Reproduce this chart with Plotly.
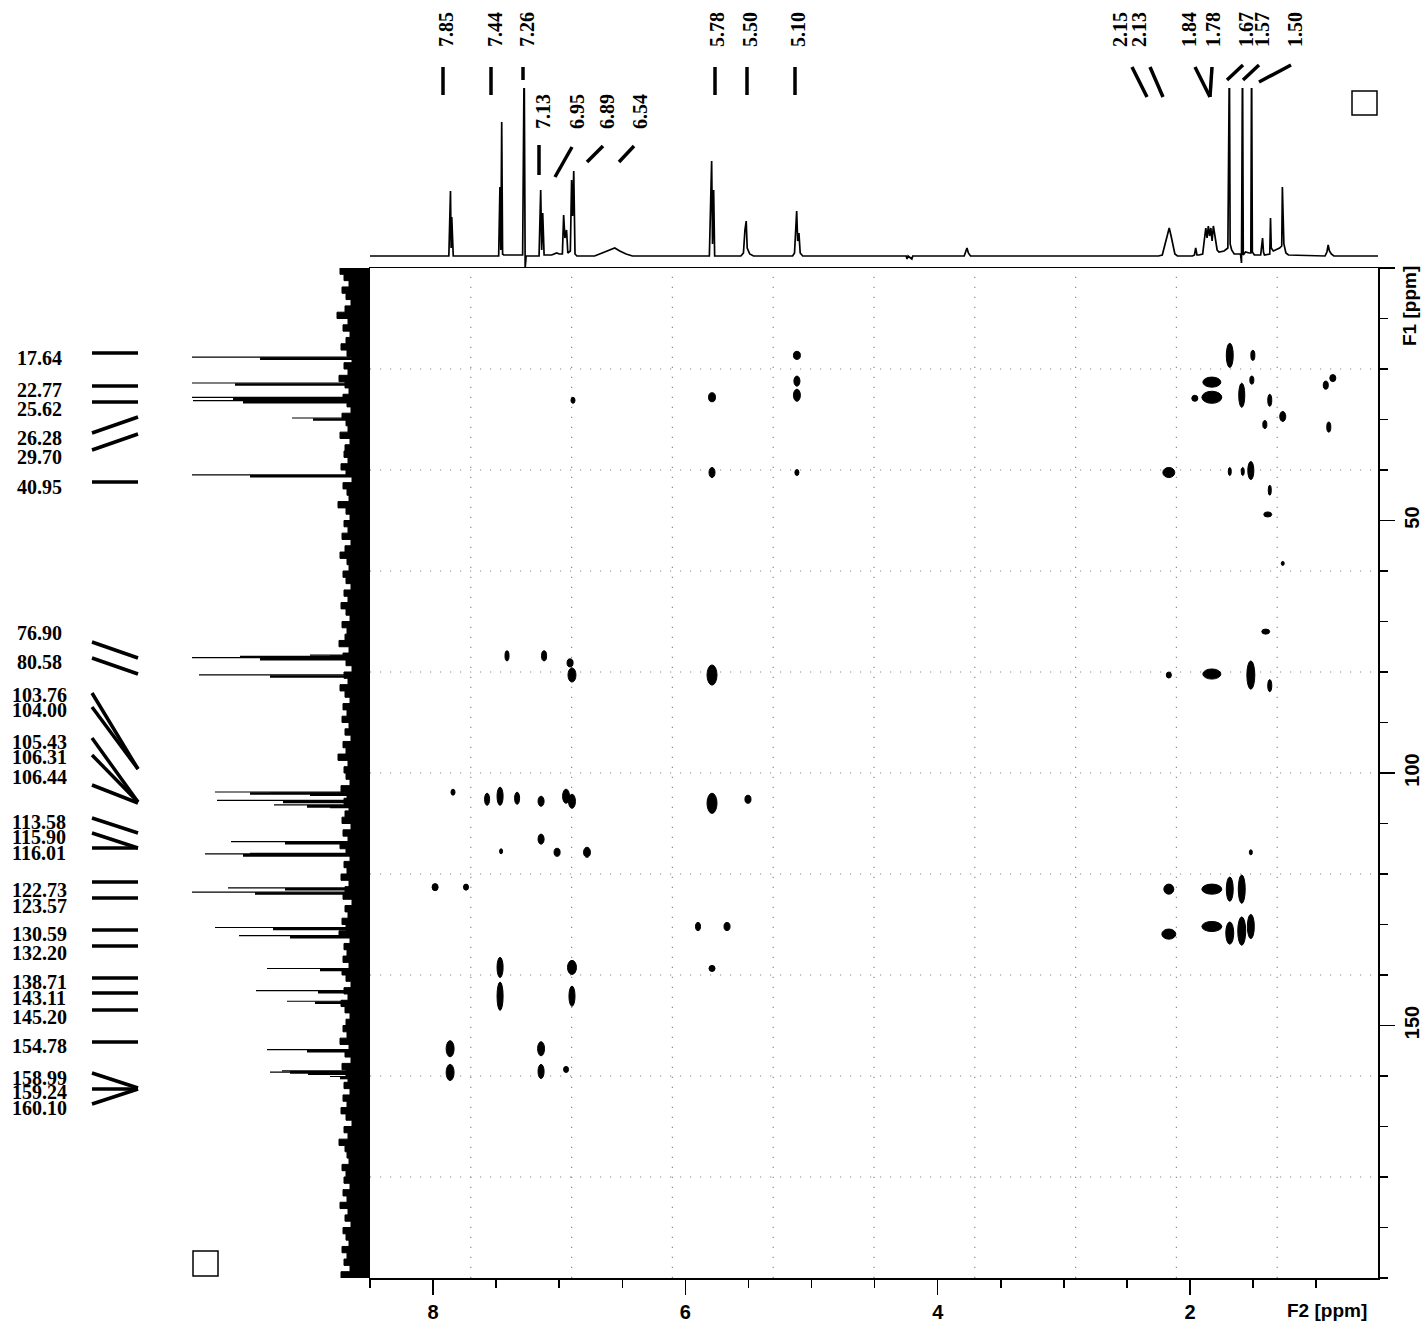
import plotly.graph_objects as go

# the page body margin is removed by a post_script, so window pixels = figure pixels
OX, OY = 0, 0
FW, FH = 1428, 1327


def px(x):
    return (x - OX) / FW


def py(y):
    return 1 - (y - OY) / FH


# ---------------- data ----------------
# 1H projection (top): chemical shift (ppm) and intensity
top_ppm = [8.50, 7.875, 7.862, 7.857, 7.852, 7.846, 7.84,
           7.48, 7.470, 7.463, 7.456, 7.449, 7.44,
           7.29, 7.278, 7.270, 7.262,
           7.16, 7.147, 7.139, 7.131, 7.12, 7.06, 7.02, 7.00,
           6.975, 6.965, 6.955, 6.942, 6.932, 6.912, 6.902, 6.894, 6.885, 6.875, 6.86,
           6.72, 6.66, 6.60, 6.56, 6.52, 6.47, 6.42,
           5.81, 5.792, 5.785, 5.776, 5.768,
           5.56, 5.54, 5.528, 5.518, 5.51, 5.49, 5.46,
           5.15, 5.135, 5.125, 5.118, 5.110, 5.100, 5.09, 5.07,
           4.25, 4.243, 4.235, 4.205, 4.198, 4.19,
           3.79, 3.768, 3.757, 3.74,
           2.25, 2.22, 2.20, 2.18, 2.165, 2.15, 2.135, 2.12, 2.10,
           1.98, 1.965, 1.955, 1.945, 1.93,
           1.90, 1.885, 1.875, 1.865, 1.855, 1.845, 1.835, 1.825, 1.815, 1.805, 1.795, 1.785, 1.77,
           1.73, 1.70, 1.688, 1.682, 1.67, 1.65,
           1.60, 1.592, 1.584, 1.578, 1.56, 1.53,
           1.518, 1.512, 1.506, 1.49,
           1.44, 1.425, 1.418, 1.41,
           1.368, 1.362, 1.356, 1.34,
           1.29, 1.273, 1.268, 1.262, 1.256, 1.24, 1.22,
           0.93, 0.915, 0.905, 0.895, 0.88, 0.86, 0.51]
top_int = [0, 0, 65, 8, 39, 0, 0,
           0, 69, 6, 134, 2, 1,
           1, 200, -12, 0,
           0, 66, 6, 43, 1, 1, 3, 2,
           2, 41, 18, 26, 3, 5, 76, 40, 85, 2, 0,
           0, 3, 6, 8, 5, 2, 0,
           0, 95, 12, 66, 0,
           0, 3, 26, 35, 8, 2, 0,
           0, 3, 34, 45, 15, 23, 3, 0,
           0, -3, 0, -3, 0, 0,
           0, 8, 3, 0,
           0, 1, 12, 22, 28, 20, 10, 2, 0,
           0, 1, 8, 1, 1,
           2, 22, 28, 18, 30, 20, 28, 15, 30, 22, 12, 6, 4,
           5, 8, 200, 12, 6, 2,
           2, -7, 200, 1, 4, 3,
           3, 200, 4, 1,
           1, 18, 4, 1,
           2, 38, 8, 5,
           8, 10, 69, 40, 12, 3, 1,
           0, 4, 11, 5, 2, 0, 0]

# 13C projection (left): peak positions (ppm), tip intensity, inner (thick) intensity
c13_ppm = [17.64, 22.77, 25.62, 26.28, 29.70, 40.95, 76.65, 76.90, 77.16, 80.58,
           103.76, 104.00, 105.43, 106.31, 106.44, 113.58, 115.90, 116.01,
           122.73, 123.57, 130.59, 132.20, 138.71, 143.11, 145.20, 154.78,
           158.99, 159.24, 160.10]
c13_tip = [178, 178, 178, 177, 78, 178, 60, 130, 178, 171,
           155, 100, 153, 96, 60, 139, 120, 165,
           142, 178, 155, 131, 103, 114, 83, 103,
           88, 100, 40]
c13_inner = [110, 135, 137, 127, 57, 120, 40, 70, 110, 100,
             120, 60, 87, 63, 40, 85, 80, 127,
             85, 115, 97, 80, 50, 52, 55, 63,
             80, 62, 30]

# baseline noise of the 13C projection, every 1.25 ppm from 0 to 200
noise_amp = [30, 26, 21, 28, 24, 19, 25, 33, 22, 27,
             20, 24, 29, 23, 18, 26, 22, 31, 25, 21,
             27, 23, 19, 28, 24, 22, 30, 20, 25, 26,
             22, 29, 24, 18, 27, 23, 21, 32, 24, 20,
             26, 22, 28, 19, 25, 30, 23, 21, 27, 24,
             19, 26, 22, 29, 24, 20, 28, 23, 25, 31,
             21, 27, 24, 18, 26, 22, 30, 25, 20, 27,
             23, 28, 21, 25, 19, 27, 24, 32, 22, 26,
             24, 20, 29, 23, 26, 21, 25, 28, 19, 27,
             22, 30, 24, 20, 26, 23, 29, 21, 25, 27,
             18, 25, 22, 28, 24, 31, 20, 26, 23, 27,
             21, 28, 24, 19, 26, 22, 29, 25, 20, 24,
             27, 23, 30, 21, 25, 19, 28, 24, 22, 26,
             20, 27, 23, 29, 24, 18, 26, 22, 31, 25,
             23, 21, 28, 24, 26, 20, 27, 23, 30, 22,
             25, 19, 27, 24, 21, 28, 23, 26, 20, 29,
             24]
noise_ppm = [i * 1.25 for i in range(len(noise_amp))]

# HMBC cross peaks: 1H shift, 13C shift, extent in F2 (ppm), extent in F1 (ppm)
cross_h = [5.116, 1.685, 1.502, 5.116, 1.827, 1.510, 0.868, 0.924,
           6.891, 5.789, 5.116, 1.827, 1.962, 1.590, 1.368, 1.265, 1.407, 0.900,
           5.789, 5.116, 2.168, 1.685, 1.582, 1.518, 1.368, 1.384, 1.265, 1.400,
           7.414, 7.120, 6.914, 6.899, 5.789, 2.168, 1.827, 1.518, 1.368,
           7.842, 7.572, 7.469, 7.334, 7.144, 6.946, 6.899, 5.789, 5.504,
           7.144, 7.461, 7.017, 6.780, 1.518,
           7.984, 7.739, 2.168, 1.827, 1.685, 1.590,
           5.900, 5.670, 2.168, 1.827, 1.685, 1.590, 1.518,
           7.469, 6.899, 5.789, 7.469, 6.899,
           7.865, 7.144, 7.865, 7.144, 6.946]
cross_c = [17.3, 17.3, 17.3, 22.4, 22.6, 22.2, 21.8, 23.2,
           26.2, 25.6, 25.2, 25.6, 25.8, 25.2, 26.2, 29.4, 31.0, 31.5,
           40.5, 40.5, 40.5, 40.3, 40.3, 40.1, 44.0, 48.8, 58.5, 72.0,
           76.8, 76.8, 78.2, 80.6, 80.6, 80.6, 80.4, 80.6, 82.7,
           103.8, 105.2, 104.6, 105.0, 105.6, 104.6, 105.6, 106.0, 105.2,
           113.1, 115.5, 115.7, 115.7, 115.7,
           122.6, 122.6, 123.0, 123.0, 123.0, 123.0,
           130.4, 130.4, 131.9, 130.4, 131.7, 131.3, 130.4,
           138.5, 138.5, 138.7, 144.2, 144.2,
           154.6, 154.6, 159.3, 159.1, 158.7]
cross_dh = [0.055, 0.055, 0.032, 0.048, 0.143, 0.032, 0.048, 0.040,
            0.032, 0.055, 0.055, 0.158, 0.048, 0.048, 0.032, 0.048, 0.032, 0.032,
            0.048, 0.032, 0.095, 0.024, 0.024, 0.048, 0.024, 0.063, 0.024, 0.063,
            0.032, 0.040, 0.048, 0.063, 0.079, 0.040, 0.143, 0.063, 0.032,
            0.032, 0.040, 0.048, 0.040, 0.048, 0.055, 0.055, 0.079, 0.048,
            0.048, 0.024, 0.048, 0.055, 0.024,
            0.048, 0.040, 0.079, 0.158, 0.055, 0.055,
            0.040, 0.048, 0.111, 0.158, 0.063, 0.063, 0.055,
            0.048, 0.071, 0.048, 0.048, 0.048,
            0.063, 0.055, 0.063, 0.048, 0.040]
cross_dc = [1.6, 4.8, 2.0, 2.0, 2.0, 1.6, 1.4, 1.6,
            1.2, 1.8, 2.4, 2.4, 1.2, 4.8, 2.4, 2.0, 1.6, 2.0,
            2.0, 1.2, 2.0, 1.6, 1.6, 3.6, 2.0, 1.0, 0.8, 1.0,
            2.0, 2.0, 1.6, 2.8, 4.0, 1.2, 2.0, 5.6, 2.4,
            1.2, 2.4, 3.6, 2.4, 2.0, 2.8, 2.8, 4.0, 1.6,
            2.0, 1.0, 1.6, 2.0, 1.0,
            1.4, 1.2, 2.0, 2.0, 4.8, 5.6,
            1.6, 1.6, 2.0, 2.0, 4.4, 5.6, 4.8,
            4.0, 2.8, 1.2, 5.6, 4.0,
            3.2, 2.8, 3.2, 2.8, 1.2]

# peak labels
top_labels_row1 = ["7.85", "7.44", "7.26", "5.78", "5.50", "5.10",
                   "2.15", "2.13", "1.84", "1.78", "1.67", "1.57", "1.50"]
top_labels_row2 = ["7.13", "6.95", "6.89", "6.54"]
left_labels = ["17.64", "22.77", "25.62", "26.28", "29.70", "40.95", "76.90", "80.58",
               "103.76", "104.00", "105.43", "106.31", "106.44", "113.58", "115.90",
               "116.01", "122.73", "123.57", "130.59", "132.20", "138.71", "143.11",
               "145.20", "154.78", "158.99", "159.24", "160.10"]

# ---------------- layout positions for labels (window pixels) ----------------
row1_x = [446, 495, 527, 717, 750, 798, 1120, 1139, 1189, 1213, 1246, 1262, 1295]
row1_conn = [(443, 67, 443, 95), (491, 67, 491, 95), (523, 67, 523, 80),
             (715, 67, 715, 95), (747, 67, 747, 95), (795, 67, 795, 95),
             (1132, 67, 1147, 97), (1150, 67, 1163, 97), (1195, 67, 1210, 97),
             (1212, 67, 1210, 97), (1243, 65, 1227, 80), (1259, 65, 1243, 80),
             (1291, 65, 1259, 82)]
row2_x = [543, 577, 607, 640]
row2_conn = [(539, 145, 539, 175), (572, 147, 555, 177), (603, 146, 587, 162),
             (634, 146, 619, 162)]
left_y = [358, 390, 409, 438, 457, 487, 633, 662, 695, 710, 742, 757, 777, 822,
          837, 853, 890, 906, 934, 953, 982, 998, 1017, 1046, 1078, 1092, 1108]
left_conn = [(353, 353), (386, 386), (402, 402), (433, 417), (450, 434), (482, 482),
             (642, 658), (658, 674), (693, 769), (707, 769), (738, 802), (755, 802),
             (785, 803), (818, 833), (833, 848), (848, 848), (882, 882), (898, 898),
             (930, 930), (946, 946), (978, 978), (993, 993), (1010, 1010),
             (1042, 1042), (1073, 1088), (1089, 1089), (1104, 1089)]

SERIF = "Liberation Serif"
SANS = "Liberation Sans"

fig = go.Figure()

# top 1H projection
fig.add_trace(go.Scatter(x=top_ppm, y=top_int, mode="lines",
                         line=dict(color="black", width=1.7),
                         xaxis="x2", yaxis="y2", hoverinfo="skip", showlegend=False))

# left 13C projection: noise
fig.add_trace(go.Scatter(x=noise_amp, y=noise_ppm, mode="lines",
                         line=dict(color="black", width=1, shape="vh"),
                         fill="tozerox", fillcolor="black",
                         xaxis="x3", yaxis="y3", hoverinfo="skip", showlegend=False))
# peaks: thin tips and thick inner parts
tx, ty, ix, iy = [], [], [], []
for c, t, inn in zip(c13_ppm, c13_tip, c13_inner):
    tx += [0, t, None]
    ty += [c, c, None]
    ix += [0, inn, None]
    iy += [c + 0.3, c + 0.3, None]
fig.add_trace(go.Scatter(x=tx, y=ty, mode="lines", line=dict(color="black", width=1.2),
                         xaxis="x3", yaxis="y3", hoverinfo="skip", showlegend=False))
fig.add_trace(go.Scatter(x=ix, y=iy, mode="lines", line=dict(color="black", width=2.6),
                         xaxis="x3", yaxis="y3", hoverinfo="skip", showlegend=False))

# invisible trace for main axes
fig.add_trace(go.Scatter(x=cross_h, y=cross_c, mode="markers",
                         marker=dict(size=1, color="rgba(0,0,0,0)"),
                         xaxis="x", yaxis="y", hoverinfo="skip", showlegend=False))

shapes = []
# grid (dotted, ten equal divisions)
for k in range(1, 10):
    f = k / 10
    shapes.append(dict(type="line", xref="x domain", yref="y domain", x0=f, x1=f, y0=0, y1=1,
                       line=dict(color="#8a8a8a", width=1.2, dash="1.2px,8.8px"), layer="below"))
    shapes.append(dict(type="line", xref="x domain", yref="y domain", x0=0, x1=1, y0=f, y1=f,
                       line=dict(color="#8a8a8a", width=1.2, dash="1.2px,8.8px"), layer="below"))

# cross peaks
for h, c, dh, dc in zip(cross_h, cross_c, cross_dh, cross_dc):
    shapes.append(dict(type="circle", xref="x", yref="y",
                       x0=h + dh / 2, x1=h - dh / 2, y0=c - dc / 2, y1=c + dc / 2,
                       fillcolor="black", line=dict(color="black", width=1)))

# label connectors
for (x1, y1, x2, y2) in row1_conn + row2_conn:
    shapes.append(dict(type="line", xref="paper", yref="paper",
                       x0=px(x1), y0=py(y1), x1=px(x2), y1=py(y2),
                       line=dict(color="black", width=3.5)))
for (y1, y2) in left_conn:
    shapes.append(dict(type="line", xref="paper", yref="paper",
                       x0=px(92), y0=py(y1), x1=px(138), y1=py(y2),
                       line=dict(color="black", width=3.5)))

# small squares
for (x0, y0, x1, y1) in [(1352, 91, 1377, 115), (193, 1251, 218, 1276)]:
    shapes.append(dict(type="rect", xref="paper", yref="paper",
                       x0=px(x0), y0=py(y0), x1=px(x1), y1=py(y1),
                       line=dict(color="black", width=1.5), fillcolor="white"))

annotations = []
for lab, x in zip(top_labels_row1, row1_x):
    annotations.append(dict(text=lab, x=px(x), y=py(30), xref="paper", yref="paper",
                            textangle=-90, showarrow=False, xanchor="center", yanchor="middle",
                            font=dict(family=SERIF, size=20, color="black", weight="bold")))
for lab, x in zip(top_labels_row2, row2_x):
    annotations.append(dict(text=lab, x=px(x), y=py(112), xref="paper", yref="paper",
                            textangle=-90, showarrow=False, xanchor="center", yanchor="middle",
                            font=dict(family=SERIF, size=20, color="black", weight="bold")))
for lab, y in zip(left_labels, left_y):
    annotations.append(dict(text=lab, x=px(39), y=py(y), xref="paper", yref="paper",
                            showarrow=False, xanchor="center", yanchor="middle",
                            font=dict(family=SERIF, size=20, color="black", weight="bold")))
annotations.append(dict(text="F2 [ppm]", x=px(1327), y=py(1310), xref="paper", yref="paper",
                        showarrow=False, xanchor="center", yanchor="middle",
                        font=dict(family=SANS, size=19, color="black", weight="bold")))
annotations.append(dict(text="F1 [ppm]", x=px(1410), y=py(306), xref="paper", yref="paper",
                        textangle=-90, showarrow=False, xanchor="center", yanchor="middle",
                        font=dict(family=SANS, size=19, color="black", weight="bold")))

tickfont = dict(family=SANS, size=20, color="black", weight="bold")
fig.update_layout(
    width=FW, height=FH, margin=dict(l=0, r=0, t=0, b=0, autoexpand=False), autosize=False,
    paper_bgcolor="white", plot_bgcolor="white", showlegend=False, hovermode=False,
    shapes=shapes, annotations=annotations,
    xaxis=dict(domain=[px(370), px(1378)], range=[8.5, 0.51], anchor="y",
               tickmode="linear", tick0=0, dtick=2, ticks="outside", ticklen=15,
               tickwidth=1.5, tickcolor="black",
               minor=dict(tickmode="linear", tick0=0, dtick=0.5, ticks="outside",
                          ticklen=8, tickwidth=1.5, tickcolor="black", showgrid=False),
               showline=True, linecolor="black", linewidth=1.5, mirror=True,
               showgrid=False, zeroline=False, tickfont=tickfont, ticklabelstandoff=0,
               automargin=False),
    yaxis=dict(domain=[py(1278), py(268)], range=[200, 0], anchor="x", side="right",
               tickmode="array", tickvals=[0, 50, 100, 150], ticktext=["", "50", "100", "150"],
               ticks="outside", ticklen=15, tickwidth=1.5, tickcolor="black",
               minor=dict(tickmode="linear", tick0=0, dtick=10, ticks="outside",
                          ticklen=8, tickwidth=1.5, tickcolor="black", showgrid=False),
               tickangle=-90, showline=True, linecolor="black", linewidth=1.5, mirror=True,
               showgrid=False, zeroline=False, tickfont=tickfont, automargin=False),
    xaxis2=dict(domain=[px(370), px(1378)], matches="x", anchor="y2", visible=False),
    yaxis2=dict(domain=[py(268), py(88)], range=[-12, 168], anchor="x2", visible=False),
    xaxis3=dict(domain=[px(190), px(370)], range=[180, 0], anchor="y3", visible=False),
    yaxis3=dict(domain=[py(1278), py(268)], matches="y", anchor="x3", visible=False),
)

fig.write_html("out.html",
               config={"displayModeBar": False, "staticPlot": True},
               post_script="document.body.style.margin='0px';"
                           "document.body.style.overflow='hidden';")
